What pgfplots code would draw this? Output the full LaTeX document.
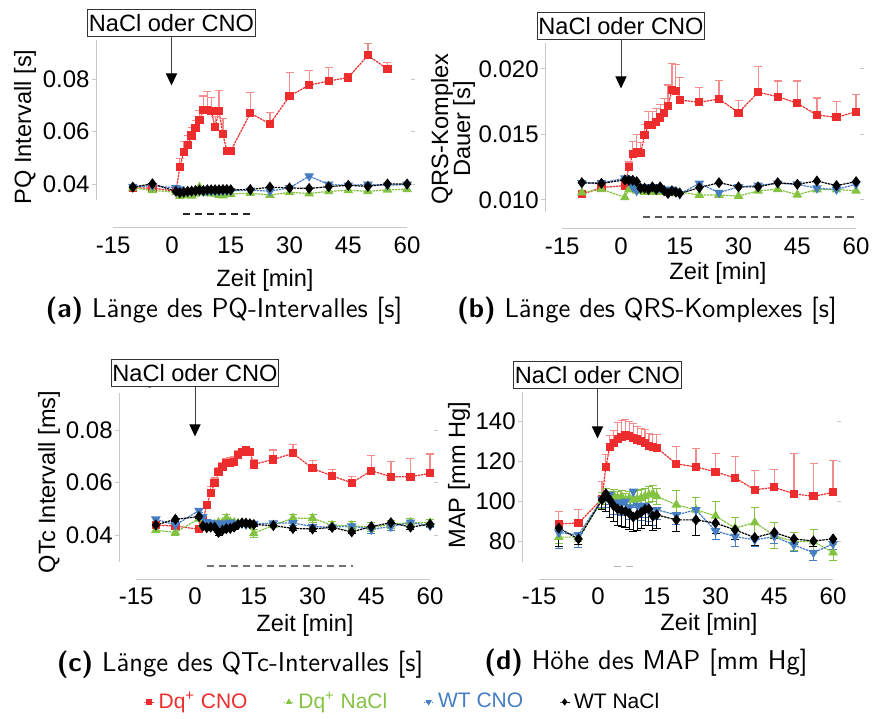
\documentclass[border=0pt]{standalone}
\usepackage{pgfplots}
\pgfplotsset{compat=1.18}
\usepackage{fontspec}
\setmainfont{Liberation Sans}
\usetikzlibrary{arrows.meta}
\definecolor{cred}{RGB}{237,45,45}
\definecolor{cgreen}{RGB}{132,195,65}
\definecolor{cblue}{RGB}{70,125,195}
\definecolor{axgray}{RGB}{200,200,200}
\newcommand{\tickfont}{\fontsize{12}{14}\selectfont}
\newcommand{\labfont}{\fontsize{11.8}{13}\selectfont}
\newcommand{\capfont}{\sffamily\fontsize{13.6}{15}\selectfont}
\pgfplotsset{
  panel/.style={
    scale only axis, width=157.5pt, anchor=south west, clip=false,
    xmin=-19.4, xmax=61,
    axis line style={draw=none},
    xtick={-15,0,15,30,45,60}, xticklabels={-15,0,15,30,45,60},
    xtick style={draw=none},
    ytick style={draw=axgray, line width=0.5pt},
    tick align=outside, major tick length=2pt,
    tick label style={font=\tickfont},
    yticklabel style={inner sep=1pt},
    xticklabel style={inner sep=2.2pt},
    /pgf/number format/assume math mode=true,
  },
  ser/.style={line width=0.6pt, dash pattern=on 1.2pt off 0.4pt, mark options={solid}},
  sred/.style={ser, color=cred, mark=square*, mark size=1.75pt},
  sgreen/.style={ser, color=cgreen, mark=triangle*, mark size=2.2pt},
  sblue/.style={ser, color=cblue, mark=triangle*, mark size=2.2pt, mark options={solid, rotate=180}},
  sblack/.style={ser, color=black, mark=diamond*, mark size=2.3pt},
  ebred/.style={error bars/.cd, y dir=plus, y explicit, error bar style={cred!55, line width=0.6pt, solid}, error mark options={cred!55, mark size=2pt, line width=0.6pt, solid, rotate=90}},
  ebplus/.style={error bars/.cd, y dir=plus, y explicit, error bar style={#1, line width=0.5pt, solid}, error mark options={#1, mark size=2pt, line width=0.5pt, solid, rotate=90}},
  ebminus/.style={error bars/.cd, y dir=minus, y explicit, error bar style={#1, line width=0.5pt, solid}, error mark options={#1, mark size=2pt, line width=0.5pt, solid, rotate=90}},
  ebboth/.style={error bars/.cd, y dir=both, y explicit, error bar style={#1, line width=0.5pt, solid}, error mark options={#1, mark size=2pt, line width=0.5pt, solid, rotate=90}},
  sig/.style={no marks, line width=0.6pt, dash pattern=on 3.5pt off 2.5pt},
}
\begin{document}
\begin{tikzpicture}
\useasboundingbox (0,0) rectangle (436pt,359pt);
% ---------------- (a) PQ
\begin{axis}[panel, at={(48pt,245pt)}, height=94pt, ymin=0.02324, ymax=0.09486,
  ytick={0.04,0.06,0.08}, yticklabels={0.04,0.06,0.08}]
\draw[axgray, line width=0.5pt] (axis cs:-19.4,0.0339) -- (axis cs:-19.4,0.09486);
\draw[axgray, line width=0.5pt] (axis cs:-15,0.02324) -- (axis cs:60,0.02324);
\addplot[sig, black!85] coordinates {(2.8,0.02857) (20.7,0.02857)};
\addplot[sred, ebred] table[x index=0, y index=1, y error index=2] {
-10 0.0385 0
-5 0.0385 0
1 0.0372 0
2 0.0464 0.0034
3 0.0522 0.0039
4 0.0549 0.0035
5 0.0585 0.0030
6 0.0612 0.0030
7 0.0643 0.0037
8 0.0681 0.0054
9 0.0681 0.0071
10 0.0678 0.0052
11 0.0617 0.0040
12 0.0678 0.0077
13 0.0589 0.0060
14 0.0526 0.0012
15 0.0526 0.0012
20 0.0670 0.0078
25 0.0629 0.0043
30 0.0735 0.0091
35 0.0777 0.0055
40 0.0792 0.0051
45 0.0806 0
50 0.0890 0.0046
55 0.0838 0.0024
};
\addplot[sgreen] table[x index=0, y index=1] {
-10 0.0385
-5 0.0376
1 0.0368
2 0.0354
3 0.0357
4 0.0358
5 0.0355
6 0.0363
7 0.0388
8 0.0367
9 0.0365
10 0.0364
11 0.0363
12 0.0358
13 0.0356
14 0.0361
15 0.0362
20 0.0365
25 0.0358
30 0.0368
35 0.0364
40 0.0372
45 0.0376
50 0.0372
55 0.0378
60 0.0380
};
\addplot[sblue] table[x index=0, y index=1] {
-10 0.0390
-5 0.0393
1 0.0385
2 0.0380
3 0.0372
4 0.0370
5 0.0372
6 0.0373
7 0.0374
8 0.0372
9 0.0373
10 0.0374
11 0.0373
12 0.0374
13 0.0374
14 0.0375
15 0.0374
20 0.0376
25 0.0373
30 0.0385
35 0.0430
40 0.0398
45 0.0395
50 0.0398
55 0.0395
60 0.0398
};
\addplot[sblack] table[x index=0, y index=1] {
-10 0.0388
-5 0.0401
1 0.0372
2 0.0367
3 0.0369
4 0.0372
5 0.0373
6 0.0375
7 0.0377
8 0.0375
9 0.0378
10 0.0378
11 0.0378
12 0.0378
13 0.0379
14 0.0379
15 0.0378
20 0.0379
25 0.0388
30 0.0385
35 0.0383
40 0.0390
45 0.0395
50 0.0391
55 0.0400
60 0.0400
};
\end{axis}
% ---------------- (b) QRS
\begin{axis}[panel, at={(272.5pt,244.5pt)}, height=93pt, ymin=0.007786, ymax=0.021985,
  ytick={0.010,0.015,0.020}, yticklabels={0.010,0.015,0.020}]
\draw[axgray, line width=0.5pt] (axis cs:-19.4,0.00908) -- (axis cs:-19.4,0.021985);
\draw[axgray, line width=0.5pt] (axis cs:-15,0.007786) -- (axis cs:60,0.007786);
\addplot[sig, black!65] coordinates {(5.6,0.0087) (60.3,0.0087)};
\addplot[sred, ebred] table[x index=0, y index=1, y error index=2] {
-10 0.01043 0
-5 0.01095 0
1 0.01110 0
2 0.01250 0.0004
3 0.01349 0.0010
4 0.01369 0.0013
5 0.01356 0.0008
6 0.01496 0.0008
7 0.01573 0.0010
8 0.01573 0.0010
9 0.01598 0.0010
10 0.01630 0.0010
11 0.01662 0.0011
12 0.01718 0.0016
13 0.01840 0.0020
14 0.01833 0.0020
15 0.01763 0.0017
20 0.01746 0.0011
25 0.01771 0.0014
30 0.01667 0.0009
35 0.01822 0.0020
40 0.01789 0.0012
45 0.01738 0.0017
50 0.01649 0.0013
55 0.01631 0.0012
60 0.01674 0.0013
};
\addplot[sgreen] table[x index=0, y index=1] {
-10 0.01056
-5 0.01082
1 0.01020
2 0.01080
3 0.01090
4 0.01070
5 0.01070
6 0.01060
7 0.01060
8 0.01070
9 0.01060
10 0.01060
11 0.01070
12 0.01060
13 0.01060
14 0.01050
15 0.01060
20 0.01038
25 0.01038
30 0.01030
35 0.01070
40 0.01082
45 0.01040
50 0.01080
55 0.01080
60 0.01070
};
\addplot[sblue] table[x index=0, y index=1] {
-10 0.01130
-5 0.01130
1 0.01166
2 0.01160
3 0.01100
4 0.01070
5 0.01100
6 0.01100
7 0.01090
8 0.01100
9 0.01100
10 0.01090
11 0.01080
12 0.01060
13 0.01080
14 0.01070
15 0.01046
20 0.01127
25 0.01056
30 0.01100
35 0.01112
40 0.01127
45 0.01120
50 0.01090
55 0.01080
60 0.01120
};
\addplot[sblack] table[x index=0, y index=1] {
-10 0.01132
-5 0.01127
1 0.01153
2 0.01150
3 0.01150
4 0.01140
5 0.01090
6 0.01090
7 0.01080
8 0.01100
9 0.01080
10 0.01100
11 0.01070
12 0.01050
13 0.01070
14 0.01060
15 0.01050
20 0.01094
25 0.01132
30 0.01100
35 0.01100
40 0.01132
45 0.01120
50 0.01145
55 0.01110
60 0.01140
};
\end{axis}
% ---------------- (c) QTc
\begin{axis}[panel, at={(59.5pt,69.5pt)}, height=93pt, ymin=0.02324, ymax=0.0941,
  ytick={0.04,0.06,0.08}, yticklabels={0.04,0.06,0.08}]
\draw[axgray, line width=0.5pt] (axis cs:-19.4,0.0297) -- (axis cs:-19.4,0.0941);
\draw[axgray, line width=0.5pt] (axis cs:-15,0.02324) -- (axis cs:60,0.02324);
\addplot[sig, black!55] coordinates {(3.1,0.0282) (40.3,0.0282)};
\addplot[sred, ebred] table[x index=0, y index=1, y error index=2] {
-10 0.0438 0.001
-5 0.0434 0.001
1 0.0422 0
2 0.0455 0.001
3 0.0514 0.0015
4 0.0559 0.0025
5 0.0597 0.0020
6 0.0641 0.0015
7 0.0660 0.0015
8 0.0673 0.0017
9 0.0674 0.0020
10 0.0679 0.0020
11 0.0705 0.0015
12 0.0717 0.0010
13 0.0724 0.0008
14 0.0717 0.0010
15 0.0669 0.0020
20 0.0688 0.0036
25 0.0711 0.0035
30 0.0654 0.0029
35 0.0625 0.0026
40 0.0599 0.0023
45 0.0645 0.0057
50 0.0622 0.0057
55 0.0622 0.0068
60 0.0635 0.0074
};
\addplot[sgreen, ebboth=cgreen] table[x index=0, y index=1, y error index=2] {
-10 0.0418 0.0008
-5 0.0410 0.0010
1 0.0462 0.0008
2 0.0440 0.0008
3 0.0430 0.0008
4 0.0432 0.0008
5 0.0440 0.0008
6 0.0448 0.0008
7 0.0447 0.0010
8 0.0464 0.0015
9 0.0450 0.0010
10 0.0448 0.0008
11 0.0445 0.0008
12 0.0445 0.0008
13 0.0445 0.0008
14 0.0440 0.0008
15 0.0406 0.0015
20 0.0438 0.0010
25 0.0464 0.0015
30 0.0464 0.0015
35 0.0437 0.0015
40 0.0436 0.0015
45 0.0430 0.0018
50 0.0440 0.0015
55 0.0448 0.0015
60 0.0446 0.0012
};
\addplot[sblue, ebminus=cblue] table[x index=0, y index=1, y error index=2] {
-10 0.0460 0.0008
-5 0.0438 0.0008
1 0.0493 0.0008
2 0.0470 0.0008
3 0.0450 0.0008
4 0.0447 0.0008
5 0.0445 0.0008
6 0.0442 0.0008
7 0.0445 0.0008
8 0.0443 0.0008
9 0.0448 0.0008
10 0.0444 0.0008
11 0.0442 0.0008
12 0.0445 0.0008
13 0.0440 0.0008
14 0.0445 0.0008
15 0.0443 0.0008
20 0.0445 0.0008
25 0.0446 0.0010
30 0.0432 0.0010
35 0.0430 0.0010
40 0.0434 0.0010
45 0.0422 0.0015
50 0.0432 0.0015
55 0.0448 0.0020
60 0.0435 0.0008
};
\addplot[sblack, ebminus=black] table[x index=0, y index=1, y error index=2] {
-10 0.0438 0.0008
-5 0.0460 0.0008
1 0.0470 0.0008
2 0.0434 0.0008
3 0.0428 0.0008
4 0.0430 0.0008
5 0.0430 0.0008
6 0.0410 0.0010
7 0.0418 0.0008
8 0.0424 0.0008
9 0.0425 0.0008
10 0.0430 0.0008
11 0.0440 0.0008
12 0.0446 0.0008
13 0.0445 0.0008
14 0.0443 0.0008
15 0.0440 0.0008
20 0.0436 0.0008
25 0.0425 0.0008
30 0.0423 0.0010
35 0.0429 0.0008
40 0.0412 0.0008
45 0.0432 0.0008
50 0.0447 0.0008
55 0.0430 0.0008
60 0.0441 0.0008
};
\end{axis}
% ---------------- (d) MAP
\begin{axis}[panel, at={(261pt,69.35pt)}, height=93.8pt, ymin=61.2, ymax=154.65,
  ytick={80,100,120,140}, yticklabels={80,100,120,140}]
\draw[axgray, line width=0.5pt] (axis cs:-19.4,70) -- (axis cs:-19.4,154.65);
\draw[axgray, line width=0.5pt] (axis cs:-15,61.2) -- (axis cs:60,61.2);
\addplot[sig, black!30] coordinates {(4.1,67.5) (10.2,67.5)};
\addplot[sred, ebred] table[x index=0, y index=1, y error index=2] {
-10 88.8 6.2
-5 89.2 6.6
1 101.2 8.8
2 117.2 6.1
3 127.2 5.6
4 129.2 6.0
5 131.2 8.0
6 132.2 8.3
7 132.8 8.0
8 132.5 7.5
9 131.7 7.0
10 130.8 6.5
11 130.0 6.5
12 129.2 6.5
13 127.8 6.0
14 127.2 6.0
15 126.7 6.6
20 118.7 8.5
25 117.2 9.0
30 114.7 9.1
35 111.7 10.8
40 105.8 9.5
45 107.0 8.8
50 103.8 20.0
55 102.5 16.2
60 104.5 15.8
};
\addplot[sgreen, ebboth=cgreen] table[x index=0, y index=1, y error index=2] {
-10 82.2 3
-5 82.2 2
1 100.5 4
2 102.5 4
3 101.7 3
4 103.1 3
5 101.7 3
6 102.5 3
7 100.8 3
8 101.7 3
9 100.8 4
10 101.2 4
11 101.7 4
12 102.5 4
13 103.3 4
14 103.8 4
15 102.5 4
20 98.3 7
25 95.8 6
30 92.8 7
35 86.7 5.5
40 89.5 7.5
45 83.0 6.5
50 80.0 4.5
55 80.0 6
60 74.5 4
};
\addplot[sblue, ebminus=cblue] table[x index=0, y index=1, y error index=2] {
-10 84.5 7.8
-5 83.3 6.3
1 101.0 4
2 102.0 5
3 103.5 5
4 99.5 6
5 99.5 6
6 99.0 6
7 100.0 6
8 97.0 6
9 105.0 8
10 98.0 6
11 96.7 6
12 98.0 6
13 95.2 5
14 93.2 5
15 95.8 5
20 93.3 5
25 95.8 6
30 85.3 4.5
35 82.5 5
40 80.8 3.5
45 82.5 3.5
50 78.3 3.5
55 74.5 4
60 78.8 3
};
\addplot[sblack, ebminus=black] table[x index=0, y index=1, y error index=2] {
-10 86.7 9
-5 81.3 3
1 100.8 5
2 103.8 9
3 100.8 9
4 97.8 8
5 96.2 8
6 95.5 8
7 95.0 8
8 94.0 8
9 92.2 7
10 93.3 8
11 94.5 8
12 96.0 8
13 96.2 8
14 92.7 7
15 93.3 7
20 90.8 6
25 90.8 8
30 89.2 5
35 85.8 5
40 82.0 4
45 84.5 3
50 81.3 3
55 80.3 3
60 81.3 2
};
\end{axis}
% ---------------- legend
\begin{axis}[hide axis, scale only axis, width=10pt, height=10pt, xmin=0, xmax=1, ymin=0, ymax=1,
  at={(201.75pt,8pt)}, anchor=center,
  legend columns=4,
  legend style={at={(0.5,0.5)}, anchor=center, draw=none, fill=none, inner sep=0pt,
    font=\fontsize{10.5}{12}\selectfont,
    /tikz/every even column/.append style={column sep=16pt}},
  legend cell align=left,
  legend image code/.code={\draw[#1, mark repeat=2, mark phase=2] plot coordinates {(0pt,0pt) (2.5pt,0pt) (5pt,0pt)};}]
\addlegendimage{cred, line width=0.4pt, mark=square*, mark size=1.2pt}
\addlegendentry{\textcolor{cred}{Dq\textsuperscript{+} CNO}}
\addlegendimage{cgreen, line width=0.4pt, densely dotted, mark=triangle*, mark size=1.4pt, mark options={solid}}
\addlegendentry{\textcolor{cgreen}{Dq\textsuperscript{+} NaCl}}
\addlegendimage{cblue, line width=0.4pt, densely dotted, mark=triangle*, mark size=1.4pt, mark options={solid, rotate=180}}
\addlegendentry{\textcolor{cblue}{WT CNO}}
\addlegendimage{black, line width=0.4pt, mark=diamond*, mark size=1.5pt}
\addlegendentry{WT NaCl}
\end{axis}
% ---------------- annotations (pixel coordinates)
\begin{scope}[x=0.5pt, y=-0.5pt, shift={(0pt,359pt)}]
  \foreach \bx/\by/\ay in {171.5/23.5/85, 621/26.5/88, 195/373/436, 597.5/375.5/438} {
    \node[draw=black!80, line width=0.5pt, fill=white, font=\labfont, inner xsep=0.6pt, inner ysep=0pt, minimum height=13.5pt] (bx) at (\bx,\by) {NaCl oder CNO};
    \draw[black!75, line width=0.5pt, -{Triangle[width=5.5pt,length=6pt,color=black]}] (bx.south) -- ++(0,\ay-\by-13.5);
  }
  \node[rotate=90, font=\labfont] at (25,127) {PQ Intervall [s]};
  \node[rotate=90, font=\labfont] at (442,129) {QRS-Komplex};
  \node[rotate=90, font=\labfont] at (464,129) {Dauer [s]};
  \node[rotate=90, font=\labfont] at (49,482) {QTc Intervall [ms]};
  \node[rotate=90, font=\labfont] at (459,475) {MAP [mm Hg]};
  \node[font=\labfont] at (265,280) {Zeit [min]};
  \node[font=\labfont] at (718,273) {Zeit [min]};
  \node[font=\labfont] at (305,625) {Zeit [min]};
  \node[font=\labfont] at (709,624) {Zeit [min]};
  \node[font=\capfont] at (224,311) {\textbf{(a)} Länge des PQ-Intervalles [s]};
  \node[font=\capfont] at (647,311) {\textbf{(b)} Länge des QRS-Komplexes [s]};
  \node[font=\capfont] at (240,665) {\textbf{(c)} Länge des QTc-Intervalles [s]};
  \node[font=\capfont] at (646,663) {\textbf{(d)} Höhe des MAP [mm Hg]};
\end{scope}
\end{tikzpicture}
\end{document}
